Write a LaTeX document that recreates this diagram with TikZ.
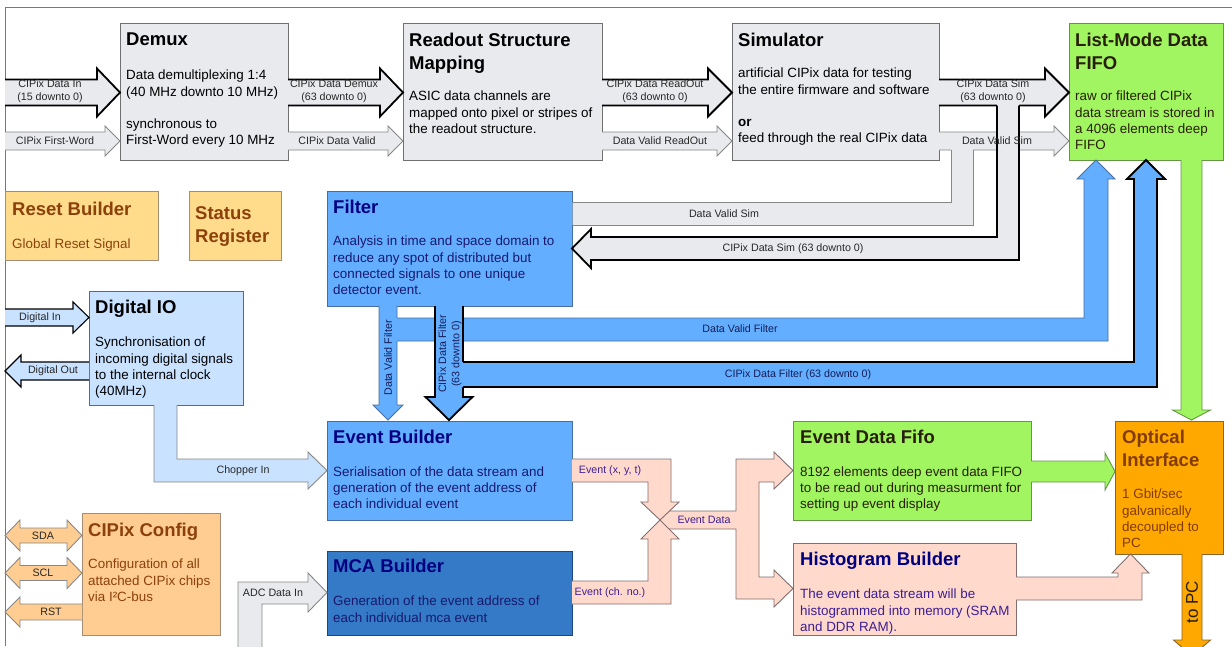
\documentclass[tikz,border=0pt]{standalone}
\usepackage{fontspec}
\setmainfont{Liberation Sans}
\definecolor{gfill}{RGB}{233,234,238}
\definecolor{gline}{RGB}{112,112,112}
\definecolor{tline}{RGB}{135,135,135}
\definecolor{grn}{RGB}{161,245,96}
\definecolor{grnline}{RGB}{100,150,70}
\definecolor{ylw}{RGB}{255,219,140}
\definecolor{org}{RGB}{255,205,145}
\definecolor{oline}{RGB}{165,140,115}
\definecolor{brn}{RGB}{140,65,10}
\definecolor{blu}{RGB}{99,174,255}
\definecolor{bline}{RGB}{70,110,160}
\definecolor{mca}{RGB}{52,122,198}
\definecolor{mcaline}{RGB}{30,70,130}
\definecolor{lblu}{RGB}{200,226,255}
\definecolor{pnk}{RGB}{255,218,204}
\definecolor{pline}{RGB}{130,110,110}
\definecolor{opt}{RGB}{255,168,0}
\definecolor{optline}{RGB}{140,100,40}
\definecolor{navy}{RGB}{0,0,128}
\definecolor{navyb}{RGB}{25,25,110}
\definecolor{purp}{RGB}{60,30,150}
\definecolor{dk}{RGB}{40,30,10}
\definecolor{lbltext}{RGB}{40,40,40}
\definecolor{bltext}{RGB}{20,30,90}
\definecolor{optext}{RGB}{130,60,0}
\definecolor{frame}{RGB}{120,120,120}

% filled shape with open outline
\newcommand\fshape[2]{\fill[#1,draw=none] #2 -- cycle; \draw[#1,fill=none] #2;}
% right arrow: style, x tail, x tip, yc, body half, head half, head length
\newcommand\rarr[7]{\fshape{#1}{(#2,#4-#5) -- (#3-#7,#4-#5) -- (#3-#7,#4-#6) -- (#3,#4) -- (#3-#7,#4+#6) -- (#3-#7,#4+#5) -- (#2,#4+#5)}}
\newcommand\larr[7]{\fshape{#1}{(#2,#4-#5) -- (#3+#7,#4-#5) -- (#3+#7,#4-#6) -- (#3,#4) -- (#3+#7,#4+#6) -- (#3+#7,#4+#5) -- (#2,#4+#5)}}
% down arrow: style, xc, y tail, y tip, body half, head half, head length
\newcommand\darr[7]{\fshape{#1}{(#2-#5,#3) -- (#2-#5,#4-#7) -- (#2-#6,#4-#7) -- (#2,#4) -- (#2+#6,#4-#7) -- (#2+#5,#4-#7) -- (#2+#5,#3)}}
% box node: name, style, x1, y1, x2, y2
\newcommand\bx[6]{\node[#2, anchor=north west, minimum width={#5-#3}, minimum height={#6-#4}] (#1) at (#3,#4) {};}

\tikzset{
  blk/.style={rectangle, inner sep=0pt, outer sep=0pt, line width=0.9pt},
  gbox/.style={blk, fill=gfill, draw=gline},
  grbox/.style={blk, fill=grn, draw=grnline},
  ybox/.style={blk, fill=ylw, draw=oline},
  obox/.style={blk, fill=org, draw=oline},
  bbox/.style={blk, fill=blu, draw=bline},
  mbox/.style={blk, fill=mca, draw=mcaline},
  lbbox/.style={blk, fill=lblu, draw=bline},
  pbox/.style={blk, fill=pnk, draw=pline},
  opbox/.style={blk, fill=opt, draw=optline},
  ttl/.style={anchor=north west, inner sep=0pt, align=left, font=\fontsize{18.5}{22.8}\selectfont\bfseries},
  bod/.style={anchor=north west, inner sep=0pt, align=left, font=\fontsize{13.4}{16.4}\selectfont},
  lbl/.style={inner sep=0pt, align=center, font=\fontsize{10.7}{13.2}\selectfont, text=lbltext},
  thk/.style={fill=gfill, draw=black, line width=1.8pt, line join=miter},
  thn/.style={fill=gfill, draw=tline, line width=0.9pt, line join=miter},
  bthn/.style={fill=blu, draw=bline, line width=0.9pt, line join=miter},
  bthk/.style={fill=blu, draw=black, line width=1.8pt, line join=miter},
  dthk/.style={fill=lblu, draw=black, line width=1.1pt, line join=miter},
  dthn/.style={fill=lblu, draw=tline, line width=0.9pt, line join=miter},
  othn/.style={fill=org, draw=tline, line width=0.9pt, line join=miter},
  pthn/.style={fill=pnk, draw=pline, line width=0.9pt, line join=miter},
  gthn/.style={fill=grn, draw=grnline, line width=0.9pt, line join=miter},
  opthn/.style={fill=opt, draw=optline, line width=0.9pt, line join=miter},
}

\begin{document}
\begin{tikzpicture}[x=1pt,y=-1pt]
\useasboundingbox (0,0) rectangle (1232,646);
\clip (0,0) rectangle (1232,646);
\fill[white] (0,0) rectangle (1232,646);
\draw[frame, line width=1pt] (5,646) -- (5,7) -- (1232,7);

% ---------- boxes ----------
\bx{demux}{gbox}{120}{23}{288}{160}
\bx{rsm}{gbox}{403}{23}{602}{160}
\bx{sim}{gbox}{732}{23}{939}{160}
\bx{lmf}{grbox}{1069}{23}{1223}{160}
\bx{reset}{ybox}{5}{191}{158}{260}
\bx{status}{ybox}{189}{191}{281}{260}
\bx{filter}{bbox}{327}{191}{572}{306}
\bx{dio}{lbbox}{89}{291}{243}{405}
\bx{evb}{bbox}{327}{421}{572}{520}
\bx{mcab}{mbox}{327}{551}{572}{635}
\bx{cfg}{obox}{82}{513}{220}{635}
\bx{edf}{grbox}{793}{421}{1031}{520}
\bx{hist}{pbox}{793}{543}{1016}{635}
\bx{optif}{opbox}{1115}{421}{1223}{554}

% ---------- box texts ----------
\node[ttl] (demux-t) at (126,46-13.4) {Demux};
\node[bod] (demux-b) at (126,79.5-9.8) {Data demultiplexing 1:4\\(40 MHz downto 10 MHz)\\[16pt]synchronous to\\First-Word every 10 MHz};
\node[ttl] (rsm-t) at (409,46.5-13.4) {Readout Structure\\Mapping};
\node[bod] (rsm-b) at (409,100.5-9.8) {ASIC data channels are\\mapped onto pixel or stripes of\\the readout structure.};
\node[ttl] (sim-t) at (738,46.5-13.4) {Simulator};
\node[bod] (sim-b) at (738,77.5-9.8) {artificial CIPix data for testing\\the entire firmware and software\\[16pt]\textbf{or}\\feed through the real CIPix data};
\node[ttl, text=dk] (lmf-t) at (1075,46.5-13.4) {List-Mode Data\\FIFO};
\node[bod, text=dk] (lmf-b) at (1075,100.5-9.8) {raw or filtered CIPix\\data stream is stored in\\a 4096 elements deep\\FIFO};
\node[ttl, text=brn] (reset-t) at (12,215-13.4) {Reset Builder};
\node[bod, text=brn] (reset-b) at (12,248-9.8) {Global Reset Signal};
\node[ttl, text=brn] (status-t) at (195,220-13.4) {Status\\Register};
\node[ttl, text=navy] (filter-t) at (333,213.5-13.4) {Filter};
\node[bod, text=navyb] (filter-b) at (333,245.5-9.8) {Analysis in time and space domain to\\reduce any spot of distributed but\\connected signals to one unique\\detector event.};
\node[ttl] (dio-t) at (95,313-13.4) {Digital IO};
\node[bod] (dio-b) at (95,346.5-9.8) {Synchronisation of\\incoming digital signals\\to the internal clock\\(40MHz)};
\node[ttl, text=navy] (evb-t) at (333,443.5-13.4) {Event Builder};
\node[bod, text=navyb] (evb-b) at (333,476-9.8) {Serialisation of the data stream and\\generation of the event address of\\each individual event};
\node[ttl, text=navy] (mcab-t) at (333,572.5-13.4) {MCA Builder};
\node[bod, text=navyb] (mcab-b) at (333,605.5-9.8) {Generation of the event address of\\each individual mca event};
\node[ttl, text=brn] (cfg-t) at (88,536-13.4) {CIPix Config};
\node[bod, text=brn] (cfg-b) at (88,568.5-9.8) {Configuration of all\\attached CIPix chips\\via I²C-bus};
\node[ttl, text=dk] (edf-t) at (800,443.5-13.4) {Event Data Fifo};
\node[bod, text=dk] (edf-b) at (800,476-9.8) {8192 elements deep event data FIFO\\to be read out during measurment for\\setting up event display};
\node[ttl, text=navy] (hist-t) at (800,565.5-13.4) {Histogram Builder};
\node[bod, text=purp] (hist-b) at (800,598.5-9.8) {The event data stream will be\\histogrammed into memory (SRAM\\and DDR RAM).};
\node[ttl, text=optext] (optif-t) at (1122,443.5-13.4) {Optical\\Interface};
\node[bod, text=optext] (optif-b) at (1122,498.5-9.8) {1 Gbit/sec\\galvanically\\decoupled to\\PC};

% ---------- top row arrows ----------
\rarr{thk}{5}{120}{92.5}{13}{24}{23}
\rarr{thn}{5}{120}{141}{9}{15}{15}
\rarr{thk}{288}{403}{92.5}{13}{24}{23}
\rarr{thn}{288}{403}{141}{9}{15}{15}
\rarr{thk}{602}{732}{92.5}{13}{24}{24}
\rarr{thn}{602}{732}{141}{9}{15}{15}
\rarr{thk}{939}{1069}{92.5}{13}{24}{24}
\rarr{thn}{939}{1069}{141}{9}{15}{15}

% Data Valid Sim branch to filter
\fill[gfill] (951,149) -- (951,202) -- (572.5,202) -- (572.5,225) -- (973,225) -- (973,149) -- cycle;
\draw[thn,fill=none] (951,150) -- (951,202) -- (572.5,202);
\draw[thn,fill=none] (572.5,225) -- (973,225) -- (973,150);
% CIPix Data Sim branch to filter
\fill[gfill] (997,104) -- (997,237) -- (591,237) -- (591,229) -- (572,248.5) -- (591,268) -- (591,260) -- (1019,260) -- (1019,104) -- cycle;
\draw[thk,fill=none] (997,105.5) -- (997,237) -- (591,237) -- (591,229) -- (572,248.5) -- (591,268) -- (591,260) -- (1019,260) -- (1019,105.5);

% ---------- filter outputs ----------
\darr{bthn}{388}{306}{420}{9}{15}{15}
\fill[blu] (396,318) -- (1084,318) -- (1084,179) -- (1077,179) -- (1096,160) -- (1115,179) -- (1108,179) -- (1108,341) -- (396,341) -- cycle;
\draw[bthn,fill=none] (397,318) -- (1084,318) -- (1084,179) -- (1077,179) -- (1096,160) -- (1115,179) -- (1108,179) -- (1108,341) -- (397,341);
\darr{bthk}{449}{306}{420}{14}{23.5}{23}
\fill[blu] (461.5,362) -- (1134,362) -- (1134,179) -- (1127,179) -- (1146,160) -- (1165,179) -- (1157,179) -- (1157,387) -- (461.5,387) -- cycle;
\draw[bthk,fill=none] (463,362) -- (1134,362) -- (1134,179) -- (1127,179) -- (1146,160) -- (1165,179) -- (1157,179) -- (1157,387) -- (463,387);

% ---------- digital IO ----------
\rarr{dthk}{5}{89}{317.5}{8.5}{15.5}{16}
\larr{dthk}{89}{5}{371}{9}{16}{16}
\fshape{dthn}{(154,405) -- (154,482) -- (308,482) -- (308,489) -- (327,470.5) -- (308,452) -- (308,459) -- (177,459) -- (177,405)}

% ---------- CIPix config ----------
\filldraw[othn] (5,535.5) -- (20,520) -- (20,528) -- (67,528) -- (67,520) -- (82,535.5) -- (67,551) -- (67,543) -- (20,543) -- (20,551) -- cycle;
\filldraw[othn] (5,573) -- (20,557.5) -- (20,565.5) -- (67,565.5) -- (67,557.5) -- (82,573) -- (67,588.5) -- (67,580.5) -- (20,580.5) -- (20,588.5) -- cycle;
\larr{othn}{82}{5}{612}{8}{15}{15}

% ---------- ADC ----------
\fshape{thn}{(238,650) -- (238,582) -- (308,582) -- (308,573) -- (327,592.5) -- (308,612) -- (308,604) -- (262,604) -- (262,650)}

% ---------- event data ----------
\fshape{pthn}{(660,511) -- (736,511) -- (736,459) -- (774,459) -- (774,452) -- (793,470.5) -- (774,489) -- (774,482) -- (759,482) -- (759,577) -- (774,577) -- (774,570) -- (793,588.5) -- (774,607) -- (774,599) -- (736,599) -- (736,529) -- (660,529)}
\fshape{pthn}{(572,459) -- (671,459) -- (671,502) -- (679,502) -- (660,520) -- (641,502) -- (648,502) -- (648,482) -- (572,482)}
\fshape{pthn}{(572,604) -- (671,604) -- (671,539) -- (679,539) -- (660,520) -- (641,539) -- (648,539) -- (648,581) -- (572,581)}

% ---------- to optical interface ----------
\rarr{gthn}{1031}{1115}{471.5}{10.5}{18.5}{10}
\darr{gthn}{1191.5}{160}{420}{10.5}{19}{10}
\fshape{pthn}{(1016,577) -- (1118,577) -- (1118,573) -- (1112,573) -- (1130.5,554) -- (1149,573) -- (1142,573) -- (1142,600) -- (1016,600)}
\darr{opthn}{1192}{554}{656}{10}{18.5}{16}

% ---------- labels ----------
\node[lbl] (l-cdi) at (50,91.5) {CIPix Data In\\(15 downto 0)};
\node[lbl] (l-cfw) at (55,141) {CIPix First-Word};
\node[lbl] (l-cdd) at (334,91.5) {CIPix Data Demux\\(63 downto 0)};
\node[lbl] (l-cdv) at (337,141) {CIPix Data Valid};
\node[lbl] (l-cdr) at (655,91.5) {CIPix Data ReadOut\\(63 downto 0)};
\node[lbl] (l-dvr) at (660,140.5) {Data Valid ReadOut};
\node[lbl] (l-cds) at (993,91.5) {CIPix Data Sim\\(63 downto 0)};
\node[lbl] (l-dvs) at (997,141) {Data Valid Sim};
\node[lbl] (l-dvs2) at (724,213.5) {Data Valid Sim};
\node[lbl] (l-cds2) at (793,249) {CIPix Data Sim (63 downto 0)};
\node[lbl, text=bltext] (l-dvf) at (740,329) {Data Valid Filter};
\node[lbl, text=bltext] (l-cdf) at (798,374.5) {CIPix Data Filter (63 downto 0)};
\node[lbl, text=bltext, rotate=90] (l-dvf2) at (388,358) {Data Valid Filter};
\node[lbl, text=bltext, rotate=90] (l-cdf2) at (450,354) {CIPix Data Filter\\(63 downto 0)};
\node[lbl] (l-din) at (40,317.5) {Digital In};
\node[lbl] (l-dout) at (53,371) {Digital Out};
\node[lbl] (l-chop) at (243,470.5) {Chopper In};
\node[lbl] (l-sda) at (43,535.5) {SDA};
\node[lbl] (l-scl) at (43,573) {SCL};
\node[lbl] (l-rst) at (51,612) {RST};
\node[lbl] (l-adc) at (273,593) {ADC Data In};
\node[lbl, text=purp] (l-exyt) at (610,470.5) {Event (x, y, t)};
\node[lbl, text=purp] (l-ech) at (610,592.5) {Event (ch. no.)};
\node[lbl, text=purp] (l-ed) at (704,519.5) {Event Data};
\node[inner sep=0pt, rotate=90, font=\fontsize{17}{20}\selectfont, text=dk] (l-pc) at (1192,602) {to PC};
\end{tikzpicture}
\end{document}
